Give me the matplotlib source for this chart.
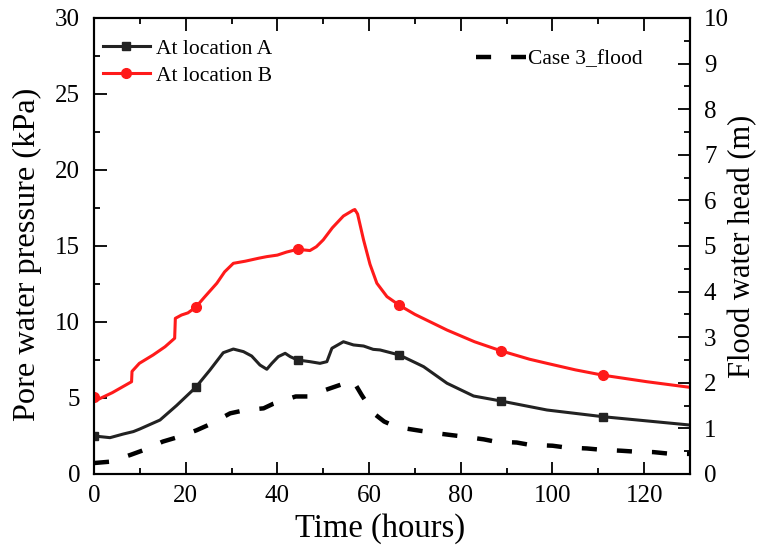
import numpy as np
import matplotlib
matplotlib.use("Agg")
import matplotlib.pyplot as plt
from matplotlib.ticker import MultipleLocator

plt.rcParams['font.family'] = ['Liberation Serif', 'DejaVu Serif']
plt.rcParams['mathtext.fontset'] = 'stix'
plt.rcParams['xtick.direction'] = 'in'
plt.rcParams['ytick.direction'] = 'in'

# ---- data ----
t_B = [0, 1, 4, 8.2, 8.3, 9.9, 12.9, 15.5, 17.6, 17.75, 19.1, 20.5, 22.2, 24, 26.8, 28.5,
       30.4, 33, 36, 37.7, 40, 42, 44.4, 47.1, 48.5, 50.0, 52, 54.4, 56.5, 56.9, 57.5,
       58.8, 60.2, 61.7, 63.9, 66.6, 70, 77, 83, 88.8, 95, 98.8, 105, 111.0, 120.6, 130]
p_B = [5.05, 4.92, 5.35, 6.07, 6.75, 7.28, 7.83, 8.37, 8.93, 10.24, 10.46, 10.6, 10.97, 11.6,
       12.55, 13.3, 13.86, 14.0, 14.2, 14.3, 14.4, 14.6, 14.78, 14.7, 14.95, 15.4, 16.2,
       16.97, 17.35, 17.4, 17.1, 15.4, 13.8, 12.55, 11.67, 11.1, 10.5, 9.47, 8.7, 8.1, 7.55,
       7.28, 6.85, 6.5, 6.07, 5.7]

t_A = [0, 3.5, 6.4, 8.6, 10.0, 14.4, 18.0, 22.2, 25.3, 28.2, 30.4, 32.6, 34.4, 36.2, 37.7,
       38.8, 40.2, 41.7, 42.8, 44.4, 47.1, 49.3, 50.8, 51.9, 54.4, 56.6, 58.8, 60.9, 62.4,
       66.6, 70.4, 71.9, 77.0, 82.8, 88.8, 98.8, 111.0, 130]
p_A = [2.5, 2.39, 2.63, 2.79, 2.96, 3.55, 4.5, 5.7, 6.84, 7.98, 8.22, 8.05, 7.76, 7.17, 6.89,
       7.28, 7.72, 7.94, 7.72, 7.5, 7.39, 7.28, 7.39, 8.27, 8.7, 8.49, 8.42, 8.2, 8.16,
       7.83, 7.28, 7.06, 5.97, 5.13, 4.8, 4.21, 3.77, 3.22]

marker_t = [0, 22.2, 44.4, 66.6, 88.8, 111.0]

t_F = [0, 3.5, 8, 11, 15, 19, 22.4, 25.3, 29.7, 32.9, 37, 39.1, 44, 47, 50.4, 53, 56.5,
       58.4, 61, 63.3, 66, 71, 75, 80.6, 85, 87.5, 92.2, 95, 100, 103, 107.5, 110.8, 115,
       118, 122, 125, 130]
h_F = [0.24, 0.27, 0.42, 0.53, 0.71, 0.83, 0.96, 1.09, 1.33, 1.40, 1.44, 1.54, 1.70, 1.70,
       1.84, 1.93, 2.05, 1.73, 1.33, 1.15, 1.03, 0.95, 0.89, 0.82, 0.76, 0.71, 0.69, 0.64,
       0.62, 0.58, 0.56, 0.53, 0.51, 0.49, 0.48, 0.45, 0.44]

label_A = "At location A"
label_B = "At location B"
label_F = "Case 3_flood"

# ---- figure ----
fig = plt.figure(figsize=(7.59, 5.50), dpi=100)
ax = fig.add_axes([0.1238, 0.1382, 0.9091 - 0.1238, 0.9673 - 0.1382])
ax2 = ax.twinx()

mk_A = [i for i, v in enumerate(t_A) if v in marker_t]
mk_B = [i for i, v in enumerate(t_B) if v in marker_t]

lA, = ax.plot(t_A, p_A, color='#222222', lw=2.2, marker='s', ms=6, markevery=mk_A,
              label=label_A, zorder=3)
lB, = ax.plot(t_B, p_B, color='#ff1a1a', lw=2.2, marker='o', ms=7, markevery=mk_B,
              label=label_B, zorder=3)
lF, = ax2.plot(t_F, h_F, color='black', lw=3.2, linestyle=(0, (3.4, 4.5)), label=label_F)

ax.set_xlim(0, 130)
ax.set_ylim(0, 30)
ax2.set_ylim(0, 10)

ax.xaxis.set_major_locator(MultipleLocator(20))
ax.xaxis.set_minor_locator(MultipleLocator(10))
ax.yaxis.set_major_locator(MultipleLocator(5))
ax.yaxis.set_minor_locator(MultipleLocator(2.5))
ax2.yaxis.set_major_locator(MultipleLocator(1))
ax2.yaxis.set_minor_locator(MultipleLocator(0.5))

for a in (ax, ax2):
    for s in a.spines.values():
        s.set_linewidth(1.5)

ax.tick_params(axis='x', which='both', direction='in', top=True, bottom=True,
               labelsize=18, width=1.3, pad=8)
ax.tick_params(axis='y', which='both', direction='in', left=True, right=False,
               labelsize=18, width=1.3, pad=10)
ax.tick_params(which='major', length=9)
ax.tick_params(which='minor', length=4.5)
ax2.tick_params(axis='y', which='both', direction='in', right=True, left=False,
                labelsize=18, width=1.3, pad=10)
ax2.tick_params(which='major', length=9)
ax2.tick_params(which='minor', length=4.5)

ax.set_xlabel("Time (hours)", fontsize=23.5)
ax.xaxis.set_label_coords(0.48, -0.085, transform=ax.transAxes)
ax.set_ylabel("Pore water pressure (kPa)", fontsize=23.3)
ax.yaxis.set_label_coords(-0.088, 0.482, transform=ax.transAxes)
ax2.set_ylabel("Flood water head (m)", fontsize=22, labelpad=-1)

leg1 = ax2.legend(handles=[lA, lB], loc='upper left', frameon=False, fontsize=15.5,
                  handlelength=2.2, handletextpad=0.3, borderaxespad=0.0,
                  labelspacing=0.3, bbox_to_anchor=(0.0, 0.973))
ax2.add_artist(leg1)
leg2 = ax2.legend(handles=[lF], loc='upper right', frameon=False, fontsize=15.5,
                  handlelength=2.3, handletextpad=0.1, borderaxespad=0.0,
                  bbox_to_anchor=(0.935, 0.95))

fig.savefig("out.png", dpi=100)
